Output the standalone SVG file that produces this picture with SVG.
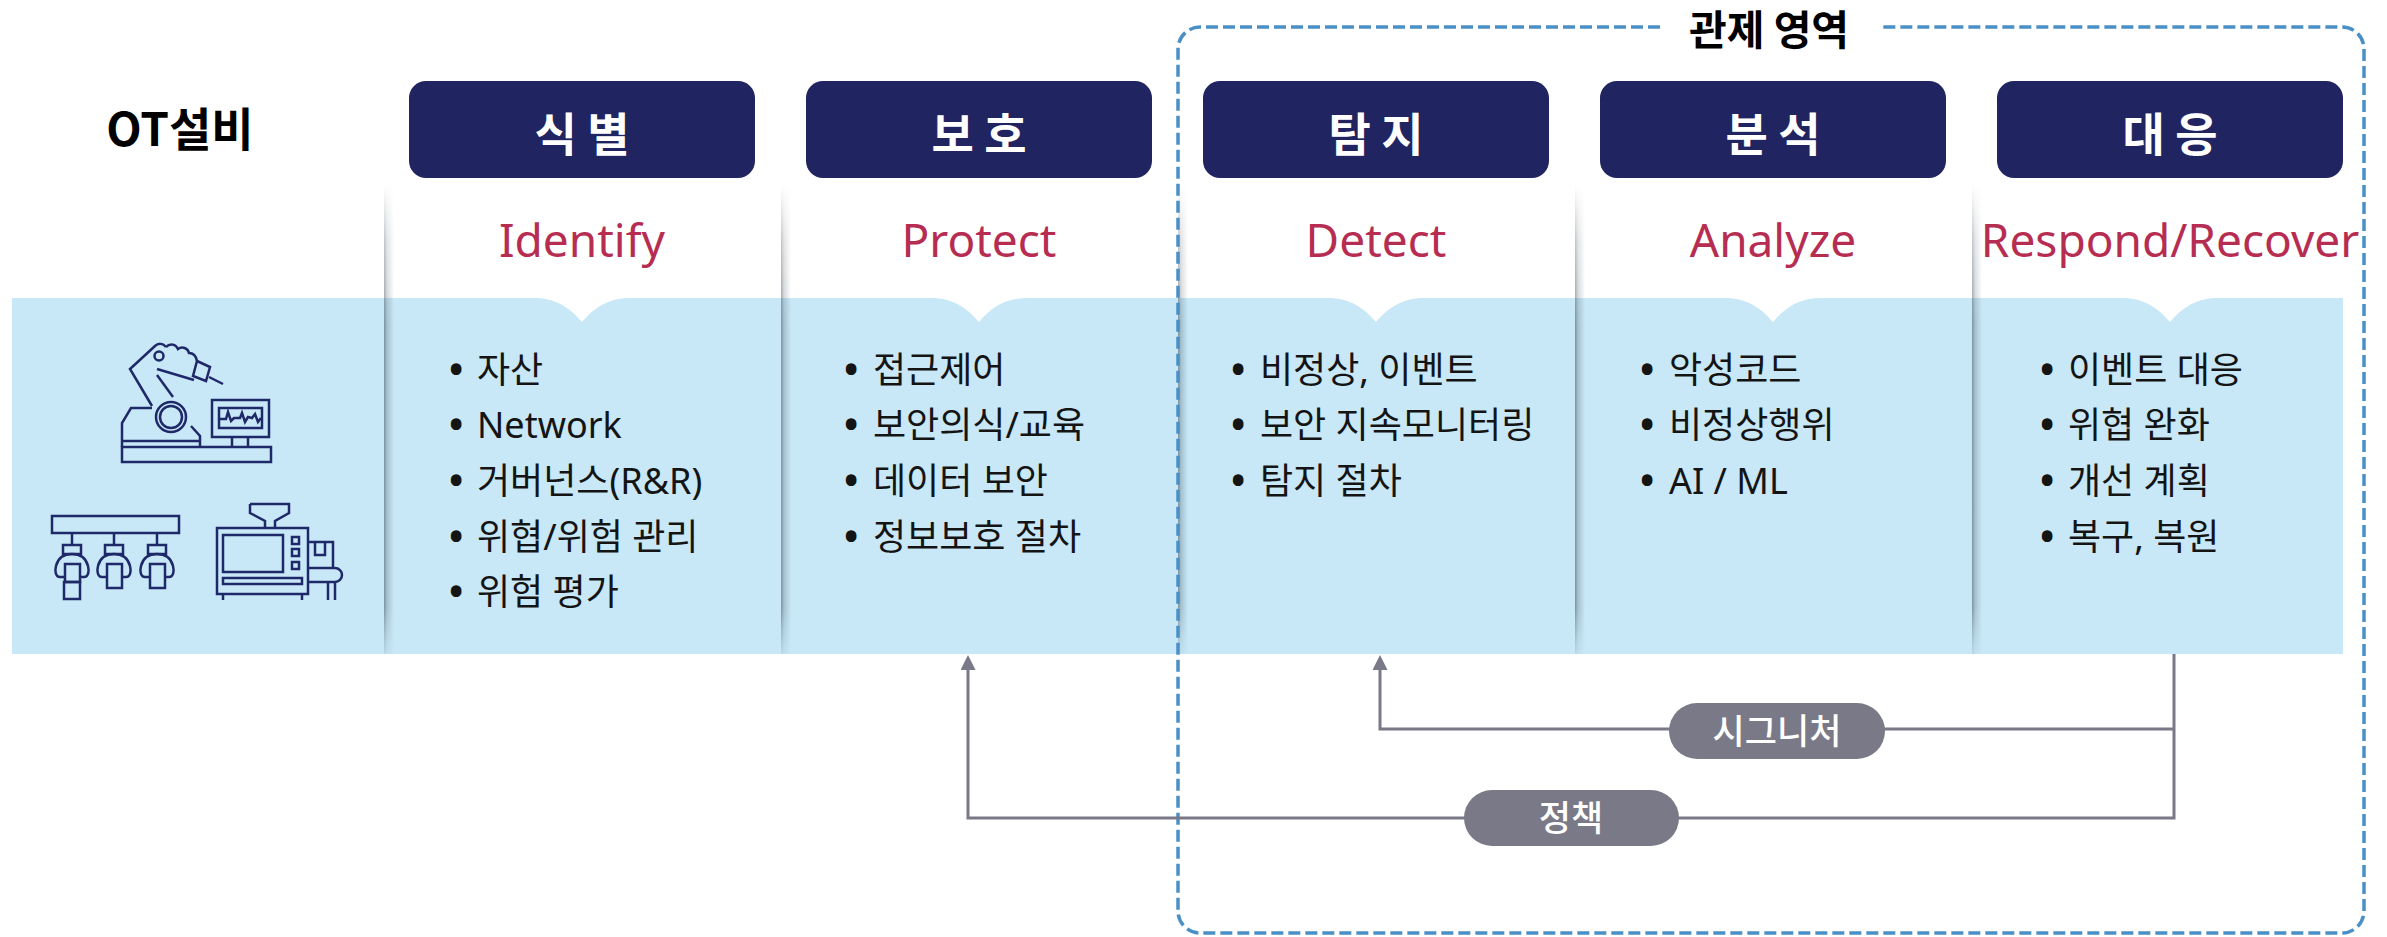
<svg xmlns="http://www.w3.org/2000/svg" width="2387" height="937" viewBox="0 0 2387 937">
<defs>
<style>
.hdr{fill:#202460}
.hdr-t{font-family:"Noto Sans CJK KR","Noto Sans",sans-serif;font-weight:700;font-size:46px;fill:#ffffff;text-anchor:middle}
.en{font-family:"Noto Sans","Noto Sans CJK KR",sans-serif;font-size:46px;fill:#b72d52;text-anchor:middle}
.li{font-family:"Noto Sans","Noto Sans CJK KR",sans-serif;font-size:36px;fill:#141414}
.li .b{font-size:38px;font-weight:700}
.icon{fill:none;stroke:#1f2868;stroke-width:2.5}
.link{fill:none;stroke:#7a7987;stroke-width:3}
.pill{fill:#7a7987}
.pill-t{font-family:"Noto Sans CJK KR",sans-serif;font-size:35px;font-weight:500;fill:#ffffff;text-anchor:middle}
.zone{fill:none;stroke:#4a90c6;stroke-width:3.5;stroke-dasharray:12 5}
.title{font-family:"Noto Sans CJK KR",sans-serif;font-weight:700;fill:#000000}
</style>
<linearGradient id="sh" x1="0" y1="0" x2="1" y2="0">
<stop offset="0" stop-color="#3c4a55" stop-opacity="0.55"/>
<stop offset="0.3" stop-color="#3c4a55" stop-opacity="0.25"/>
<stop offset="1" stop-color="#3c4a55" stop-opacity="0"/>
</linearGradient>
<linearGradient id="fadeG" gradientUnits="userSpaceOnUse" x1="0" y1="185" x2="0" y2="654">
<stop offset="0" stop-color="#fff" stop-opacity="0"/>
<stop offset="0.12" stop-color="#fff" stop-opacity="0.6"/>
<stop offset="0.3" stop-color="#fff" stop-opacity="1"/>
<stop offset="0.9" stop-color="#fff" stop-opacity="1"/>
<stop offset="1" stop-color="#fff" stop-opacity="0.2"/>
</linearGradient>
<mask id="fade" maskUnits="userSpaceOnUse" x="0" y="0" width="2387" height="937">
<rect x="0" y="185" width="2387" height="469" fill="url(#fadeG)"/>
</mask>
<marker id="arr" markerUnits="userSpaceOnUse" markerWidth="16" markerHeight="16" refX="1" refY="7.5" orient="auto">
<path d="M0 0 L15 7.5 L0 15 Z" fill="#7a7987"/>
</marker>
<g id="grip" class="icon">
<path d="M0 533 V545"/>
<rect x="-9" y="545" width="18" height="9"/>
<path d="M-8 577 H-12 C-17 577 -17 570 -16 566 C-14 558 -8 554 0 554 C8 554 14 558 16 566 C17 570 17 577 12 577 H8"/>
</g>
</defs>

<rect x="0" y="0" width="2387" height="937" fill="#ffffff"/>

<!-- light blue band with a notch under each column -->
<path id="band" fill="#c8e8f7" d="M12 298 H534 C556 298 570 308 582 322 C594 308 608 298 630 298 H931 C953 298 967 308 979 322 C991 308 1005 298 1027 298 H1328 C1350 298 1364 308 1376 322 C1388 308 1402 298 1424 298 H1725 C1747 298 1761 308 1773 322 C1785 308 1799 298 1821 298 H2122 C2144 298 2158 308 2170 322 C2182 308 2196 298 2218 298 H2343 V654 H12 Z"/>

<!-- column edge shadows -->
<g id="column-shadows" mask="url(#fade)">
<rect x="384" y="185" width="10" height="469" fill="url(#sh)"/>
<rect x="781" y="185" width="10" height="469" fill="url(#sh)"/>
<rect x="1178" y="185" width="10" height="469" fill="url(#sh)"/>
<rect x="1575" y="185" width="10" height="469" fill="url(#sh)"/>
<rect x="1972" y="185" width="10" height="469" fill="url(#sh)"/>
</g>

<!-- monitoring zone -->
<g id="zone">
<path class="zone" d="M1660 27 H1200 A22 22 0 0 0 1178 49 V911 A22 22 0 0 0 1200 933 H2342 A22 22 0 0 0 2364 911 V49 A22 22 0 0 0 2342 27 H1882"/>
<text class="title" x="1769" y="45" font-size="41" text-anchor="middle">관제 영역</text>
</g>

<!-- OT equipment -->
<g id="ot">
<text class="title" x="180" y="146" font-size="46" text-anchor="middle">OT설비</text>
<g id="robot" class="icon">
<rect x="122" y="447" width="149" height="15"/>
<path d="M122 447 V423 L131 408 H152"/>
<path d="M122 441 H200"/>
<path d="M191 426 L200 436 V447"/>
<circle cx="171" cy="417" r="15"/>
<circle cx="171" cy="417" r="11"/>
<path d="M152 406 L130 369 L155 346 C158 343 163 343 166 347"/>
<path d="M173 397 L157 375"/>
<circle cx="159" cy="356" r="4.5"/>
<path d="M166 347 C170 343 176 344 178 349 C182 346 188 348 189 353 C193 353 196 356 197 361"/>
<path d="M157 369 L194 380"/>
<path d="M197 361 L210 367 L206 381 L193 376 Z"/>
<path d="M209 377 L223 384"/>
<rect x="212" y="400" width="57" height="37"/>
<rect x="219" y="408" width="43" height="20"/>
<polyline points="220,419 226,419 228,412 231,421 234,418 240,418 242,413 245,422 248,417 252,418 255,414 258,422 261,418"/>
<path d="M232 437 V447 M248 437 V447"/>
</g>
<g id="gantry" class="icon">
<rect x="52" y="516" width="127" height="17"/>
<use href="#grip" x="72"/>
<use href="#grip" x="114"/>
<use href="#grip" x="157"/>
<rect x="65" y="564" width="15" height="18"/>
<rect x="64" y="582" width="16" height="17"/>
<rect x="107" y="564" width="15" height="24"/>
<rect x="150" y="564" width="15" height="24"/>
</g>
<g id="machine" class="icon">
<path d="M250 504 H289 V513 L275 521 V528 M250 504 V513 L265 521 V528"/>
<rect x="217" y="528" width="91" height="66"/>
<rect x="223" y="535" width="60" height="37"/>
<rect x="292" y="537" width="7" height="7"/>
<rect x="292" y="549" width="7" height="7"/>
<rect x="292" y="562" width="7" height="7"/>
<rect x="223" y="578" width="79" height="6"/>
<path d="M223 594 V600 M302 594 V600"/>
<path d="M308 542 H333 V568 M315 542 V555 H325 V542"/>
<path d="M308 568 H335 A7 7 0 0 1 335 582 H308 M328 582 V600 M335 582 V600"/>
</g>
</g>

<!-- Identify -->
<g id="identify">
<rect class="hdr" x="409" y="81" width="346" height="97" rx="17"/>
<text class="hdr-t" x="582" y="151">식 별</text>
<text class="en" x="582" y="257">Identify</text>
<text class="li"><tspan class="b" x="449" y="383">•</tspan><tspan x="477">자산</tspan></text>
<text class="li"><tspan class="b" x="449" y="438">•</tspan><tspan x="477">Network</tspan></text>
<text class="li"><tspan class="b" x="449" y="494">•</tspan><tspan x="477">거버넌스(R&amp;R)</tspan></text>
<text class="li"><tspan class="b" x="449" y="550">•</tspan><tspan x="477">위협/위험 관리</tspan></text>
<text class="li"><tspan class="b" x="449" y="605">•</tspan><tspan x="477">위험 평가</tspan></text>
</g>

<!-- Protect -->
<g id="protect">
<rect class="hdr" x="806" y="81" width="346" height="97" rx="17"/>
<text class="hdr-t" x="979" y="151">보 호</text>
<text class="en" x="979" y="257">Protect</text>
<text class="li"><tspan class="b" x="844" y="383">•</tspan><tspan x="873">접근제어</tspan></text>
<text class="li"><tspan class="b" x="844" y="438">•</tspan><tspan x="873">보안의식/교육</tspan></text>
<text class="li"><tspan class="b" x="844" y="494">•</tspan><tspan x="873">데이터 보안</tspan></text>
<text class="li"><tspan class="b" x="844" y="550">•</tspan><tspan x="873">정보보호 절차</tspan></text>
</g>

<!-- Detect -->
<g id="detect">
<rect class="hdr" x="1203" y="81" width="346" height="97" rx="17"/>
<text class="hdr-t" x="1376" y="151">탐 지</text>
<text class="en" x="1376" y="257">Detect</text>
<text class="li"><tspan class="b" x="1231" y="383">•</tspan><tspan x="1260">비정상, 이벤트</tspan></text>
<text class="li"><tspan class="b" x="1231" y="438">•</tspan><tspan x="1260">보안 지속모니터링</tspan></text>
<text class="li"><tspan class="b" x="1231" y="494">•</tspan><tspan x="1260">탐지 절차</tspan></text>
</g>

<!-- Analyze -->
<g id="analyze">
<rect class="hdr" x="1600" y="81" width="346" height="97" rx="17"/>
<text class="hdr-t" x="1773" y="151">분 석</text>
<text class="en" x="1773" y="257">Analyze</text>
<text class="li"><tspan class="b" x="1640" y="383">•</tspan><tspan x="1669">악성코드</tspan></text>
<text class="li"><tspan class="b" x="1640" y="438">•</tspan><tspan x="1669">비정상행위</tspan></text>
<text class="li"><tspan class="b" x="1640" y="494">•</tspan><tspan x="1669">AI / ML</tspan></text>
</g>

<!-- Respond/Recover -->
<g id="respond">
<rect class="hdr" x="1997" y="81" width="346" height="97" rx="17"/>
<text class="hdr-t" x="2170" y="151">대 응</text>
<text class="en" x="2170" y="257">Respond/Recover</text>
<text class="li"><tspan class="b" x="2040" y="383">•</tspan><tspan x="2068">이벤트 대응</tspan></text>
<text class="li"><tspan class="b" x="2040" y="438">•</tspan><tspan x="2068">위협 완화</tspan></text>
<text class="li"><tspan class="b" x="2040" y="494">•</tspan><tspan x="2068">개선 계획</tspan></text>
<text class="li"><tspan class="b" x="2040" y="550">•</tspan><tspan x="2068">복구, 복원</tspan></text>
</g>

<!-- feedback connectors -->
<g id="connectors">
<path class="link" d="M2174 654 V818 H968 V669" marker-end="url(#arr)"/>
<path class="link" d="M2174 729 H1380 V669" marker-end="url(#arr)"/>
</g>

<g id="signature">
<rect class="pill" x="1669" y="703" width="216" height="56" rx="28"/>
<text class="pill-t" x="1777" y="744">시그니처</text>
</g>
<g id="policy">
<rect class="pill" x="1464" y="790" width="215" height="56" rx="28"/>
<text class="pill-t" x="1571" y="831">정책</text>
</g>
</svg>
